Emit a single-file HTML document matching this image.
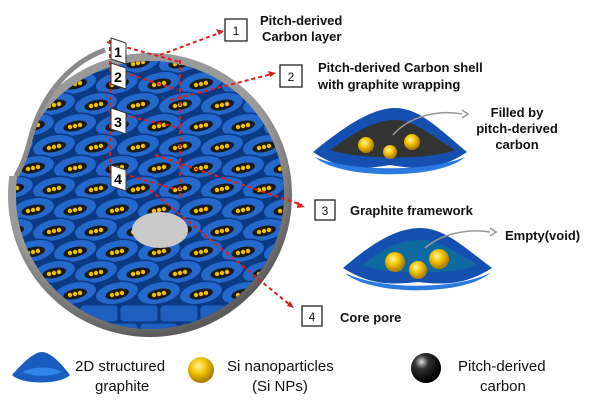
<!DOCTYPE html>
<html><head><meta charset="utf-8"><style>
html,body{margin:0;padding:0;background:#fff;}
svg{display:block;font-family:"Liberation Sans",sans-serif;}
.b{font-weight:bold;font-size:13px;fill:#111;}
.l{font-size:15px;fill:#111;}
</style></head><body>
<svg width="600" height="405" viewBox="0 0 600 405" xmlns="http://www.w3.org/2000/svg">
<defs>
<radialGradient id="shell" cx="0.45" cy="0.4" r="0.6">
<stop offset="0.8" stop-color="#9a9a9a"/><stop offset="1" stop-color="#5a5a5a"/></radialGradient>
<radialGradient id="ball" cx="0.4" cy="0.35" r="0.6"><stop offset="0" stop-color="#fff3a0"/><stop offset="0.5" stop-color="#f2c400"/><stop offset="1" stop-color="#b08000"/></radialGradient>
<radialGradient id="bk" cx="0.35" cy="0.3" r="0.65"><stop offset="0" stop-color="#ddd"/><stop offset="0.35" stop-color="#333"/><stop offset="1" stop-color="#000"/></radialGradient>
<clipPath id="sph"><circle cx="150" cy="195" r="134"/></clipPath>
</defs>
<circle cx="150" cy="195" r="142" fill="url(#shell)"/>
<g clip-path="url(#sph)" id="tiles">
<rect x="0" y="50" width="300" height="300" fill="#0c3a80"/>
</g>
<!-- lower blocks -->
<g clip-path="url(#sph)" id="blocks"></g>
<!-- notch -->
<path d="M0 0 L105 0 L105 48 C65 62 38 100 28 140 C24 155 20 165 14 176 L0 176 Z" fill="#fff"/>
<path d="M105 50 C66 64 40 100 30 140 C26 156 22 166 16 176" fill="none" stroke="#8a8a8a" stroke-width="5"/>
<ellipse cx="160" cy="230" rx="28" ry="18" fill="#c9c9c9"/>
<g stroke="#d8201c" stroke-width="2" stroke-dasharray="4,3" fill="none">
<path d="M107 42 L180 62 M110 68 L178 90 M110 112 L180 128 M110 170 L178 190"/>
<path d="M110 40 L110 180 M180 60 L180 200"/>
<path d="M160 55 L222 32"/>
<path d="M170 100 L272 74"/>
<path d="M155 155 L302 205"/>
<path d="M150 190 L290 305"/>
</g>
<g fill="#d8201c"><path d="M224 31 l-8 -2 l3 6z"/><path d="M276 73 l-8 -2 l2 6z"/><path d="M305 207 l-7 -5 l-1 6z"/><path d="M294 308 l-4 -7 l-3 5z"/></g>
<g font-weight="bold" font-size="14" text-anchor="middle">
<polygon points="111,38 126,43 126,64 111,59" fill="#fff" stroke="#333"/><text x="118" y="57">1</text>
<polygon points="111,63 126,68 126,89 111,84" fill="#fff" stroke="#333"/><text x="118" y="82">2</text>
<polygon points="111,108 126,113 126,134 111,129" fill="#fff" stroke="#333"/><text x="118" y="127">3</text>
<polygon points="111,165 126,170 126,191 111,186" fill="#fff" stroke="#333"/><text x="118" y="184">4</text>
</g>
<g fill="#fff" stroke="#222" stroke-width="1.3">
<rect x="225" y="19" width="22" height="22"/><rect x="280" y="65" width="22" height="22"/>
<rect x="315" y="200" width="20" height="20"/><rect x="302" y="306" width="20" height="20"/>
</g>
<g font-size="12" text-anchor="middle" fill="#111"><text x="236" y="35">1</text><text x="291" y="81">2</text><text x="325" y="215">3</text><text x="312" y="321">4</text></g>
<text class="b" x="260" y="25">Pitch-derived</text><text class="b" x="262" y="41">Carbon layer</text>
<text class="b" x="318" y="72">Pitch-derived Carbon shell</text><text class="b" x="318" y="89">with graphite wrapping</text>
<text class="b" x="350" y="215">Graphite framework</text>
<text class="b" x="340" y="322">Core pore</text>
<text class="b" x="517" y="117" text-anchor="middle">Filled by</text>
<text class="b" x="517" y="133" text-anchor="middle">pitch-derived</text>
<text class="b" x="517" y="149" text-anchor="middle">carbon</text>
<text class="b" x="505" y="240">Empty(void)</text>
<g>
<path d="M313 152 C340 130 370 108 395 108 C420 108 440 130 467 152 C440 170 420 170 390 165 C360 170 340 170 313 152Z" fill="#1550b0"/>
<path d="M330 150 C355 132 375 120 395 120 C415 120 430 135 455 150 C430 160 360 160 330 150Z" fill="#333"/>
<path d="M315 157 C350 172 430 172 465 157 C440 180 340 180 315 157Z" fill="#2a7ae0"/>
<circle cx="366" cy="145" r="8" fill="url(#ball)"/><circle cx="390" cy="152" r="7" fill="url(#ball)"/><circle cx="412" cy="142" r="8" fill="url(#ball)"/>
<path d="M393 135 C410 115 440 110 462 114" fill="none" stroke="#999" stroke-width="1.5"/><path d="M462 110 l6 4 l-6 4" fill="none" stroke="#999" stroke-width="1.5"/>
</g>
<g>
<path d="M343 268 C370 245 395 228 420 228 C445 228 465 248 492 268 C465 285 445 285 418 282 C390 285 370 285 343 268Z" fill="#1550b0"/>
<path d="M362 265 C385 248 400 240 420 240 C440 240 455 252 478 265 C455 275 385 275 362 265Z" fill="#0e6aa0"/>
<path d="M345 273 C380 290 455 290 490 273 C465 296 370 296 345 273Z" fill="#2a7ae0"/>
<circle cx="395" cy="262" r="10" fill="url(#ball)"/><circle cx="418" cy="270" r="9" fill="url(#ball)"/><circle cx="439" cy="259" r="10" fill="url(#ball)"/>
<path d="M425 248 C440 235 465 228 490 232" fill="none" stroke="#999" stroke-width="1.5"/><path d="M490 228 l6 4 l-6 4" fill="none" stroke="#999" stroke-width="1.5"/>
</g>
<path d="M12 375 C25 360 35 352 42 352 C50 352 60 362 70 375 C60 385 22 385 12 375Z" fill="#1a5cc0"/>
<path d="M22 372 C35 366 50 366 62 372 C50 377 35 377 22 372Z" fill="#2f86ea"/>
<text class="l" x="75" y="371">2D structured</text><text class="l" x="95" y="391">graphite</text>
<circle cx="201" cy="370" r="13" fill="url(#ball)"/>
<text class="l" x="227" y="371">Si nanoparticles</text><text class="l" x="252" y="391">(Si NPs)</text>
<circle cx="426" cy="368" r="15" fill="url(#bk)"/>
<text class="l" x="458" y="371">Pitch-derived</text><text class="l" x="480" y="391">carbon</text>
</svg>
<script>
(function(){
var g=document.getElementById('tiles'),s='';
for(var r=0;r<12;r++){for(var c=0;c<8;c++){
var x=12+c*42+(r%2)*21, y=62+r*21;
s+='<ellipse cx="'+x+'" cy="'+y+'" rx="22" ry="11" fill="#2468cc" stroke="#0b3a85" stroke-width="1.5" transform="rotate(-12 '+x+' '+y+')"/>';
s+='<ellipse cx="'+x+'" cy="'+(y+1)+'" rx="12" ry="5" fill="#1a1a1a" transform="rotate(-12 '+x+' '+y+')"/>';
for(var k=-1;k<=1;k++){s+='<circle cx="'+(x+k*5)+'" cy="'+(y+1-k)+'" r="2.2" fill="#f0c000"/>';}
}}
g.insertAdjacentHTML('beforeend',s);
var b=document.getElementById('blocks'),t='';
for(var r=0;r<3;r++){for(var c=0;c<8;c++){
var x=c*40+(r%2)*20, y=305+r*18;
t+='<rect x="'+x+'" y="'+y+'" width="38" height="17" rx="4" fill="#1f5fc0" stroke="#0b3a85"/>';
}}
b.insertAdjacentHTML('beforeend',t);
})();
</script>
</body></html>
